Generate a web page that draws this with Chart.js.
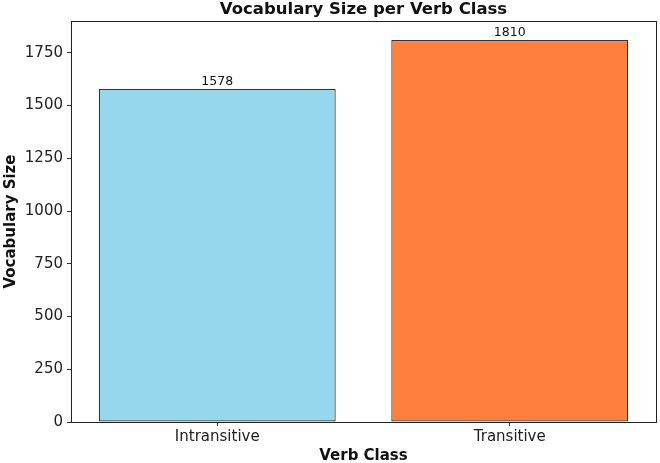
<!DOCTYPE html>
<html>
<head>
<meta charset="utf-8">
<script src="https://cdn.jsdelivr.net/npm/chart.js@4"></script>
<style>
  body { margin: 0; background: #fff; }
</style>
</head>
<body>
<canvas id="grafico" width="660" height="463"></canvas>
<script>
const categories = ['Intransitive', 'Transitive'];
const vocabSize = [1578, 1810];
const barColors = ['rgb(150,215,237)', 'rgb(255,127,62)'];
const yTicks = [0, 250, 500, 750, 1000, 1250, 1500, 1750];

const font = 'DejaVu Sans';

// frame, title and value labels, matplotlib-like
const extras = {
  id: 'extras',
  afterDatasetsDraw(chart) {
    const { ctx, chartArea: a } = chart;
    ctx.save();
    ctx.strokeStyle = '#222';
    ctx.lineWidth = 1;
    ctx.strokeRect(a.left + 0.5, a.top + 0.5, a.right - a.left, a.bottom - a.top);

    ctx.fillStyle = '#111';
    ctx.font = '12.5px "' + font + '"';
    ctx.textAlign = 'center';
    ctx.textBaseline = 'bottom';
    chart.getDatasetMeta(0).data.forEach((bar, i) => {
      ctx.fillText(String(vocabSize[i]), bar.x, bar.y - 1);
    });

    ctx.font = 'bold 16.5px "' + font + '"';
    ctx.textBaseline = 'middle';
    ctx.fillText('Vocabulary Size per Verb Class', (a.left + a.right) / 2, 9.5);
    ctx.restore();
  }
};

new Chart(document.getElementById('grafico').getContext('2d'), {
  type: 'bar',
  data: {
    labels: categories,
    datasets: [{
      data: vocabSize,
      backgroundColor: barColors,
      borderColor: '#333',
      borderWidth: 1.2,
      borderSkipped: false,
      categoryPercentage: 0.81,
      barPercentage: 1.0
    }]
  },
  options: {
    responsive: false,
    animation: false,
    layout: { padding: { top: 21, right: 4, left: 0, bottom: 0 } },
    plugins: {
      legend: { display: false },
      tooltip: { enabled: false }
    },
    scales: {
      x: {
        afterFit(scale) { scale.height = 41; },
        grid: { offset: false, drawOnChartArea: false, drawTicks: true, tickLength: 4, color: '#333' },
        border: { color: '#222' },
        ticks: { color: '#222', font: { family: font, size: 15 }, padding: 2 },
        title: { display: true, text: 'Verb Class', color: '#111', font: { family: font, size: 15, weight: 'bold' }, padding: { top: 0, bottom: -2 } }
      },
      y: {
        min: 0,
        max: 1900.5,
        afterBuildTicks(scale) {
          scale.ticks = yTicks.map(v => ({ value: v }));
        },
        afterFit(scale) { scale.width = 71; },
        grid: { drawOnChartArea: false, drawTicks: true, tickLength: 4, color: '#333' },
        border: { color: '#222' },
        ticks: { color: '#222', font: { family: font, size: 15 }, padding: 4, callback: v => String(v) },
        title: { display: true, text: 'Vocabulary Size', color: '#111', font: { family: font, size: 15, weight: 'bold' }, padding: { top: 2, bottom: 2 } }
      }
    }
  },
  plugins: [extras]
});
</script>
</body>
</html>
